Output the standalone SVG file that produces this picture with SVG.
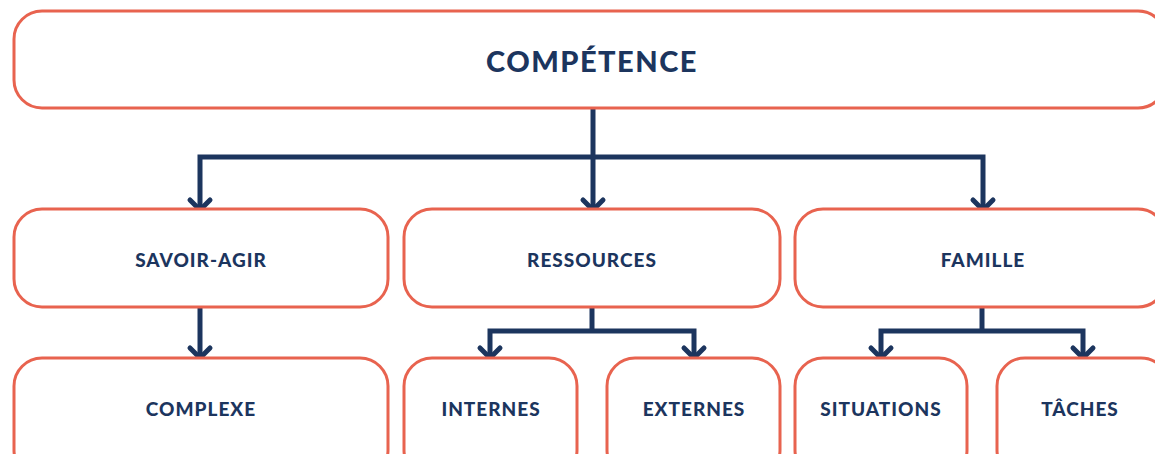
<svg xmlns="http://www.w3.org/2000/svg" width="1155" height="454" viewBox="0 0 1155 454">
<defs>
<style>
.box{fill:#ffffff;stroke:#e8634f;stroke-width:3}
.lbl{font-family:Lato,"Open Sans","Liberation Sans",sans-serif;font-weight:900;fill:#1c355e;text-anchor:middle;dominant-baseline:central;letter-spacing:1px;font-size:19px}
.title{font-size:29px;letter-spacing:1.5px}
.con{fill:none;stroke:#1c355e;stroke-width:5;stroke-linejoin:miter}
</style>
<marker id="chev" markerUnits="userSpaceOnUse" orient="auto" refX="0" refY="0" markerWidth="30" markerHeight="30" viewBox="-15 -15 30 30" overflow="visible">
<path d="M-10,-10 L0,0 L-10,10" fill="none" stroke="#1c355e" stroke-width="5" stroke-linecap="round" stroke-linejoin="miter"/>
</marker>
</defs>
<rect width="1155" height="454" fill="#ffffff"/>
<g id="connectors">
<path class="con" d="M593,108 V157"/>
<path class="con" d="M593,157 H200 V210" marker-end="url(#chev)"/>
<path class="con" d="M593,157 H983 V210" marker-end="url(#chev)"/>
<path class="con" d="M593,157 V210" marker-end="url(#chev)"/>
<path class="con" d="M200,307 V358" marker-end="url(#chev)"/>
<path class="con" d="M592,307 V331"/>
<path class="con" d="M592,331 H490 V358" marker-end="url(#chev)"/>
<path class="con" d="M592,331 H694 V358" marker-end="url(#chev)"/>
<path class="con" d="M982,307 V331"/>
<path class="con" d="M982,331 H881 V358" marker-end="url(#chev)"/>
<path class="con" d="M982,331 H1083 V358" marker-end="url(#chev)"/>
</g>
<g id="n-competence"><rect class="box" x="14" y="11" width="1152" height="97" rx="28"/><text class="lbl title" x="592" y="60">COMPÉTENCE</text></g>
<g id="n-savoir"><rect class="box" x="14" y="209" width="374" height="98" rx="28"/><text class="lbl" x="201" y="259">SAVOIR-AGIR</text></g>
<g id="n-ressources"><rect class="box" x="404" y="209" width="376" height="98" rx="28"/><text class="lbl" x="592" y="259">RESSOURCES</text></g>
<g id="n-famille"><rect class="box" x="795" y="209" width="371" height="98" rx="28"/><text class="lbl" x="983" y="259">FAMILLE</text></g>
<g id="n-complexe"><rect class="box" x="14" y="358" width="374" height="120" rx="28"/><text class="lbl" x="201" y="408">COMPLEXE</text></g>
<g id="n-internes"><rect class="box" x="404" y="358" width="173" height="120" rx="28"/><text class="lbl" x="491" y="408">INTERNES</text></g>
<g id="n-externes"><rect class="box" x="607" y="358" width="173" height="120" rx="28"/><text class="lbl" x="694" y="408">EXTERNES</text></g>
<g id="n-situations"><rect class="box" x="795" y="358" width="172" height="120" rx="28"/><text class="lbl" x="881" y="408">SITUATIONS</text></g>
<g id="n-taches"><rect class="box" x="997" y="358" width="172" height="120" rx="28"/><text class="lbl" x="1080" y="408">TÂCHES</text></g>
</svg>
